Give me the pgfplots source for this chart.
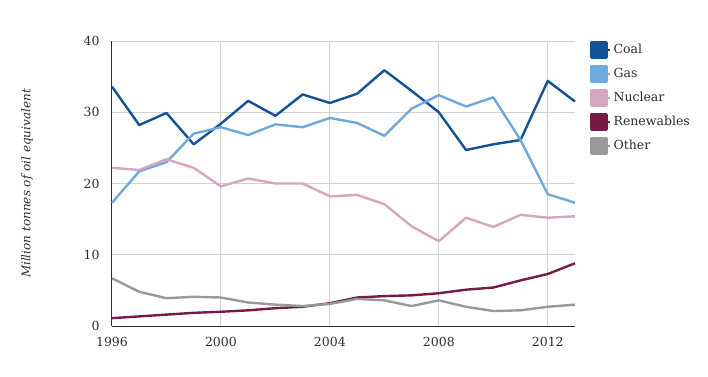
\documentclass[border=0pt]{standalone}
\usepackage{pgfplots}
\pgfplotsset{compat=1.18}
\usepackage{fontspec}
\setmainfont{DejaVu Serif}
\definecolor{coal}{RGB}{18,82,150}
\definecolor{gas}{RGB}{111,168,220}
\definecolor{nuclear}{RGB}{214,166,193}
\definecolor{renew}{RGB}{120,26,72}
\definecolor{other}{RGB}{153,153,153}
\definecolor{gridc}{RGB}{210,210,210}
\definecolor{txt}{RGB}{45,45,45}
\begin{document}
\begin{tikzpicture}
\path[use as bounding box] (-112pt,-50pt) rectangle (596pt,326pt);
\begin{axis}[
  at={(0pt,0pt)}, anchor=south west,
  scale only axis, width=463pt, height=285pt,
  xmin=1996, xmax=2013, ymin=0, ymax=40,
  axis x line*=bottom, axis y line*=left,
  axis line style={-, draw=txt, line width=1pt},
  xtick={1996,2000,2004,2008,2012},
  ytick={0,10,20,30,40},
  /pgf/number format/assume math mode=true,
  xticklabel={\pgfmathprintnumber[1000 sep={}]{\tick}},
  major tick length=0pt,
  grid=major, grid style={draw=gridc, line width=1pt},
  tick label style={font=\fontsize{12.5}{15}\selectfont, text=txt},
  yticklabel style={xshift=-9pt},
  xticklabel style={yshift=-8pt},
  ylabel={\itshape Million tonnes of oil equivalent},
  ylabel style={font=\fontsize{12}{14}\selectfont, text=txt, at={(axis description cs:0,0.5)}, anchor=center, yshift=85pt},
  legend style={at={(1,1)}, anchor=north west, xshift=13pt, yshift=2pt, draw=none, fill=none,
    font=\fontsize{12.5}{15}\selectfont, text=txt, row sep=6.6pt, inner sep=2pt},
  legend cell align=left,
  legend image code/.code={\fill[#1] (0pt,-7.5pt) rectangle (15pt,7.5pt); \path (0pt,0pt) -- (19pt,0pt);},
  every axis plot/.append style={line width=2.4pt, line join=round},
  clip=false,
]
\addplot[coal] coordinates {(1996,33.6)(1997,28.2)(1998,29.9)(1999,25.5)(2000,28.4)(2001,31.6)(2002,29.5)(2003,32.5)(2004,31.3)(2005,32.6)(2006,35.9)(2007,33.0)(2008,30.0)(2009,24.7)(2010,25.5)(2011,26.1)(2012,34.4)(2013,31.5)};
\addlegendentry{Coal}
\addplot[gas] coordinates {(1996,17.3)(1997,21.7)(1998,23.0)(1999,27.0)(2000,27.9)(2001,26.8)(2002,28.3)(2003,27.9)(2004,29.2)(2005,28.5)(2006,26.7)(2007,30.5)(2008,32.4)(2009,30.8)(2010,32.1)(2011,26.1)(2012,18.5)(2013,17.3)};
\addlegendentry{Gas}
\addplot[nuclear] coordinates {(1996,22.2)(1997,21.9)(1998,23.4)(1999,22.2)(2000,19.6)(2001,20.7)(2002,20.0)(2003,20.0)(2004,18.2)(2005,18.4)(2006,17.1)(2007,14.0)(2008,11.9)(2009,15.2)(2010,13.9)(2011,15.6)(2012,15.2)(2013,15.4)};
\addlegendentry{Nuclear}
\addplot[renew] coordinates {(1996,1.1)(1997,1.35)(1998,1.6)(1999,1.85)(2000,2.0)(2001,2.2)(2002,2.5)(2003,2.7)(2004,3.2)(2005,4.0)(2006,4.2)(2007,4.3)(2008,4.6)(2009,5.1)(2010,5.4)(2011,6.4)(2012,7.3)(2013,8.8)};
\addlegendentry{Renewables}
\addplot[other] coordinates {(1996,6.7)(1997,4.8)(1998,3.9)(1999,4.1)(2000,4.0)(2001,3.3)(2002,3.0)(2003,2.8)(2004,3.1)(2005,3.8)(2006,3.6)(2007,2.8)(2008,3.6)(2009,2.7)(2010,2.1)(2011,2.2)(2012,2.7)(2013,3.0)};
\addlegendentry{Other}
\end{axis}
\end{tikzpicture}
\end{document}
